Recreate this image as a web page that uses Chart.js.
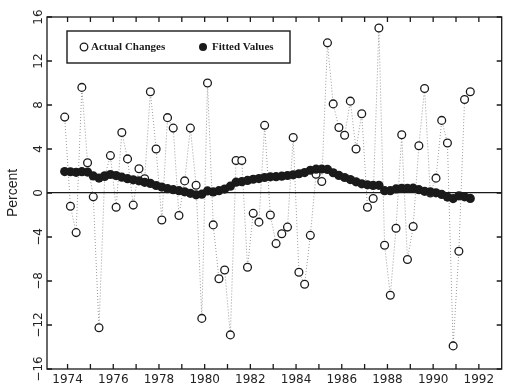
<!DOCTYPE html>
<html>
<head>
<meta charset="utf-8">
<script src="https://cdn.jsdelivr.net/npm/chart.js@4.4.0/dist/chart.umd.min.js"></script>
<style>
  html, body { margin: 0; padding: 0; background: #fff; }
  canvas { display: block; }
</style>
</head>
<body>
<canvas id="changesChart" width="507" height="388"></canvas>
<script>
// quarterly observations, 1973Q4 - 1991Q3
const quarters = [
  '1973Q4',
  '1974Q1', '1974Q2', '1974Q3', '1974Q4',
  '1975Q1', '1975Q2', '1975Q3', '1975Q4',
  '1976Q1', '1976Q2', '1976Q3', '1976Q4',
  '1977Q1', '1977Q2', '1977Q3', '1977Q4',
  '1978Q1', '1978Q2', '1978Q3', '1978Q4',
  '1979Q1', '1979Q2', '1979Q3', '1979Q4',
  '1980Q1', '1980Q2', '1980Q3', '1980Q4',
  '1981Q1', '1981Q2', '1981Q3', '1981Q4',
  '1982Q1', '1982Q2', '1982Q3', '1982Q4',
  '1983Q1', '1983Q2', '1983Q3', '1983Q4',
  '1984Q1', '1984Q2', '1984Q3', '1984Q4',
  '1985Q1', '1985Q2', '1985Q3', '1985Q4',
  '1986Q1', '1986Q2', '1986Q3', '1986Q4',
  '1987Q1', '1987Q2', '1987Q3', '1987Q4',
  '1988Q1', '1988Q2', '1988Q3', '1988Q4',
  '1989Q1', '1989Q2', '1989Q3', '1989Q4',
  '1990Q1', '1990Q2', '1990Q3', '1990Q4',
  '1991Q1', '1991Q2', '1991Q3'
];

const actualChanges = [
  6.9,
  -1.2, -3.6, 9.6, 2.75,
  -0.35, -12.25, 1.5, 3.4,
  -1.3, 5.5, 3.1, -1.1,
  2.2, 1.3, 9.2, 4.0,
  -2.45, 6.85, 5.9, -2.05,
  1.1, 5.9, 0.7, -11.4,
  10.0, -2.9, -7.8, -7.0,
  -12.9, 2.95, 2.95, -6.75,
  -1.85, -2.65, 6.15, -2.0,
  -4.6, -3.7, -3.1, 5.05,
  -7.2, -8.3, -3.85, 1.7,
  1.05, 13.65, 8.1, 5.95,
  5.25, 8.35, 4.0, 7.2,
  -1.3, -0.5, 15.0, -4.75,
  -9.3, -3.2, 5.3, -6.05,
  -3.05, 4.3, 9.5, 0.0,
  1.35, 6.6, 4.55, -13.9,
  -5.3, 8.5, 9.2
];

const fittedValues = [
  1.95,
  1.93, 1.88, 1.94, 1.9,
  1.55, 1.36, 1.57, 1.68,
  1.58, 1.44, 1.3, 1.2,
  1.11, 0.97, 0.87, 0.68,
  0.54, 0.39, 0.3, 0.21,
  0.11, -0.03, -0.17, -0.11,
  0.19, 0.1, 0.21, 0.36,
  0.62, 0.98, 1.03, 1.14,
  1.25, 1.31, 1.41, 1.47,
  1.48, 1.53, 1.59, 1.65,
  1.75, 1.86, 2.07, 2.17,
  2.18, 2.14, 1.84, 1.6,
  1.41, 1.22, 1.02, 0.83,
  0.74, 0.69, 0.7, 0.21,
  0.21, 0.37, 0.43, 0.43,
  0.44, 0.3, 0.15, 0.11,
  0.02, -0.13, -0.37, -0.51,
  -0.26, -0.35, -0.49
];

const yearTicks = [1974, 1975, 1976, 1977, 1978, 1979, 1980, 1981, 1982, 1983,
                   1984, 1985, 1986, 1987, 1988, 1989, 1990, 1991, 1992];
const yearLabels = [1974, 1976, 1978, 1980, 1982, 1984, 1986, 1988, 1990, 1992];
const percentTicks = [-16, -14, -12, -10, -8, -6, -4, -2, 0, 2, 4, 6, 8, 10, 12, 14, 16];
const percentLabels = [-16, -12, -8, -4, 0, 4, 8, 12, 16];

// quarter plotted at its middle
function quarterPos(q) {
  const parts = q.split('Q');
  return Number(parts[0]) + (Number(parts[1]) - 0.5) / 4;
}

const actualPoints = quarters.map((q, i) => ({ x: quarterPos(q), y: actualChanges[i] }));
const fittedPoints = quarters.map((q, i) => ({ x: quarterPos(q), y: fittedValues[i] }));

const ink = '#1a1a1a';
const sans = '"Liberation Sans", Arial, sans-serif';

// box frame, inner tick marks and the legend box
const framePlugin = {
  id: 'frame',
  afterDraw(chart) {
    const { ctx, chartArea: a, scales: { x, y } } = chart;
    ctx.save();
    ctx.strokeStyle = ink;
    ctx.lineWidth = 1.3;
    ctx.strokeRect(a.left, a.top, a.right - a.left, a.bottom - a.top);

    ctx.beginPath();
    x.ticks.forEach(t => {
      const px = x.getPixelForValue(t.value);
      ctx.moveTo(px, a.bottom); ctx.lineTo(px, a.bottom - 5);
      ctx.moveTo(px, a.top); ctx.lineTo(px, a.top + 5);
    });
    y.ticks.forEach(t => {
      const py = y.getPixelForValue(t.value);
      ctx.moveTo(a.left, py); ctx.lineTo(a.left + 5, py);
      ctx.moveTo(a.right, py); ctx.lineTo(a.right - 5, py);
    });
    ctx.stroke();

    // legend
    const lx = a.left + 20, ly = a.top + 14, lw = 223, lh = 32;
    const cy = ly + lh / 2;
    ctx.lineWidth = 1.4;
    ctx.strokeRect(lx, ly, lw, lh);

    ctx.lineWidth = 1.3;
    ctx.fillStyle = '#fff';
    ctx.beginPath();
    ctx.arc(lx + 17, cy, 3.8, 0, Math.PI * 2);
    ctx.fill();
    ctx.stroke();

    ctx.fillStyle = ink;
    ctx.beginPath();
    ctx.arc(lx + 136, cy, 4, 0, Math.PI * 2);
    ctx.fill();

    ctx.font = 'bold 11px "Liberation Serif", "Times New Roman", serif';
    ctx.textBaseline = 'middle';
    ctx.textAlign = 'left';
    ctx.fillText('Actual Changes', lx + 24, cy);
    ctx.fillText('Fitted Values', lx + 145, cy);
    ctx.restore();
  }
};

const chart = new Chart(document.getElementById('changesChart').getContext('2d'), {
  type: 'scatter',
  data: {
    datasets: [{
      label: 'Fitted Values',
      data: fittedPoints,
      order: 0,
      showLine: true,
      borderColor: 'rgba(0,0,0,0.45)',
      borderWidth: 1,
      borderDash: [1, 2],
      pointRadius: 4.6,
      pointBackgroundColor: ink,
      pointBorderColor: ink,
      pointBorderWidth: 0
    }, {
      label: 'Actual Changes',
      data: actualPoints,
      order: 1,
      showLine: true,
      borderColor: 'rgba(0,0,0,0.4)',
      borderWidth: 1,
      borderDash: [1, 2],
      pointRadius: 3.9,
      pointBackgroundColor: '#fff',
      pointBorderColor: ink,
      pointBorderWidth: 1.3
    }]
  },
  options: {
    responsive: false,
    animation: false,
    events: [],
    layout: { padding: { top: 17, right: 4, left: 0, bottom: 0 } },
    plugins: {
      legend: { display: false },
      tooltip: { enabled: false }
    },
    scales: {
      x: {
        type: 'linear',
        min: 1973.1,
        max: 1993,
        afterBuildTicks: s => { s.ticks = yearTicks.map(v => ({ value: v })); },
        afterFit: s => { s.height = 19; },
        grid: { display: false, drawTicks: false },
        border: { display: false },
        ticks: {
          autoSkip: false,
          maxRotation: 0,
          padding: 4,
          color: '#222',
          font: { family: '"DejaVu Sans", sans-serif', size: 12 },
          callback: v => yearLabels.includes(v) ? String(v) : ''
        }
      },
      y: {
        min: -16,
        max: 16,
        afterBuildTicks: s => { s.ticks = percentTicks.map(v => ({ value: v })); },
        afterFit: s => { s.width = 47; },
        grid: {
          drawTicks: false,
          lineWidth: 1.2,
          color: c => (c.tick && c.tick.value === 0) ? ink : 'rgba(0,0,0,0)'
        },
        border: { display: false },
        title: {
          display: true,
          text: 'Percent',
          color: '#222',
          font: { family: sans, size: 14 },
          padding: { top: 5, bottom: 0 }
        },
        ticks: {
          minRotation: 90,
          maxRotation: 90,
          crossAlign: 'center',
          padding: -5,
          color: '#222',
          font: { family: '"DejaVu Sans", sans-serif', size: 12 },
          callback: v => percentLabels.includes(v) ? (v < 0 ? '\u2212' + Math.abs(v) : String(v)) : ''
        }
      }
    }
  },
  plugins: [framePlugin]
});
</script>
</body>
</html>
